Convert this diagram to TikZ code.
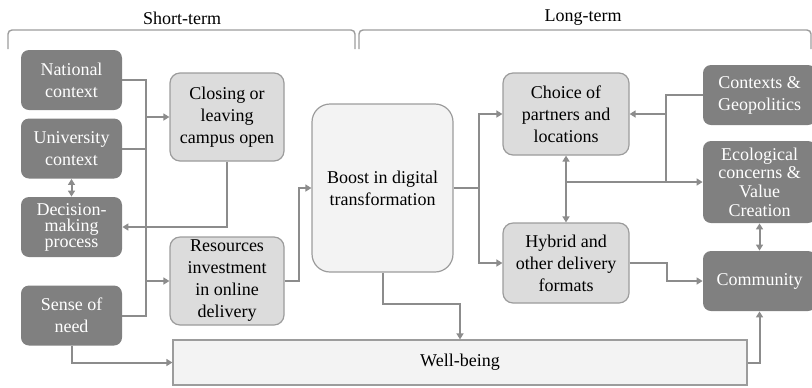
\documentclass[tikz,border=0pt]{standalone}
\usepackage{fontspec}
\setmainfont{Liberation Serif}
\usepackage{tikz}
\usetikzlibrary{arrows.meta,calc}
\definecolor{darkbox}{HTML}{808080}
\definecolor{lightbox}{HTML}{DCDCDC}
\definecolor{paleBox}{HTML}{F3F3F3}
\definecolor{boxline}{HTML}{9C9C9C}
\definecolor{linkgray}{HTML}{8C8C8C}

\begin{document}
\begin{tikzpicture}[x=0.5pt, y=-0.5pt,
	every node/.style={font=\fontsize{9}{11}\selectfont, align=center, inner sep=1pt},
	ctx/.style={fill=darkbox, text=white, rounded corners=4pt, minimum width=50.5pt, minimum height=30pt},
	act/.style={fill=lightbox, draw=boxline, line width=0.6pt, rounded corners=5pt, minimum width=57pt, minimum height=44pt},
	link/.style={draw=linkgray, line width=1pt},
	arr/.style={link, -{Triangle[length=3pt,width=3.5pt]}},
	dbl/.style={link, {Triangle[length=3pt,width=3.5pt]}-{Triangle[length=3pt,width=3.5pt]}},
	brace/.style={draw=boxline, line width=0.7pt, rounded corners=2pt}]

	\useasboundingbox (0,0) rectangle (812,387);

	% term brackets
	\draw[brace] (8,49) -- (8,30) -- (355,30) -- (355,49);
	\draw[brace] (359,49) -- (359,30) -- (811,30) -- (811,49);
	\node (short) at (182,18) {Short-term};
	\node (long) at (583,18) {Long-term};

	% left side: contexts
	\node[ctx] (nat) at (71.5,80) {National\\context};
	\node[ctx] (uni) at (71.5,148.5) {University\\context};
	\node[ctx, font=\fontsize{9}{8}\selectfont] (dec) at (71.5,227) {Decision-\\making\\process};
	\node[ctx] (sense) at (71.5,315.5) {Sense of\\need};

	% short-term actions
	\node[act] (close) at (227,117) {Closing or\\leaving\\campus open};
	\node[act] (res) at (227,281) {Resources\\investment\\in online\\delivery};
	\node[act, fill=paleBox, rounded corners=9pt, minimum width=70.5pt, minimum height=84pt] (boost) at (382.5,188) {Boost in digital\\transformation};
	\node[draw=boxline, fill=paleBox, line width=0.6pt, minimum width=287pt, minimum height=22.5pt] (well) at (460,362.5) {Well-being};

	% long-term
	\node[act, minimum width=63pt, minimum height=41pt] (choice) at (566,114) {Choice of\\partners and\\locations};
	\node[act, minimum width=63pt, minimum height=40pt] (hybrid) at (566,263) {Hybrid and\\other delivery\\formats};
	\node[ctx, minimum width=56.5pt] (geo) at (759.5,95) {Contexts \&\\Geopolitics};
	\node[ctx, font=\fontsize{9}{9.3}\selectfont, minimum width=56.5pt, minimum height=41pt] (eco) at (759.5,182) {Ecological\\concerns \&\\Value\\Creation};
	\node[ctx, minimum width=56.5pt] (comm) at (759.5,281) {Community};

	\coordinate (bus) at (146,0);
	\coordinate (mid) at (566,182);

	% connectors, left
	\draw[link] (nat.east) -- (nat.east -| bus) -- (sense.east -| bus) -- (sense.east);
	\draw[link] (uni.east) -- (uni.east -| bus);
	\draw[arr] (close.west -| bus) -- (close.west);
	\draw[arr] (res.west -| bus) -- (res.west);
	\draw[dbl] (uni.south) -- (dec.north);
	\draw[arr] (close.south) |- (dec.east);
	\draw[arr] (res.east) -- ++(14,0) |- (boost.west);
	\draw[arr] (sense.south) |- (well.west);
	\draw[arr] (boost.south) -- ++(0,31) -| (well.north);

	% connectors, right
	\draw[arr] (boost.east) -- ++(25,0) coordinate (fork) |- (choice.west);
	\draw[arr] (fork) |- (hybrid.west);
	\draw[arr] (mid) -- (choice.south);
	\draw[arr] (mid) -- (hybrid.north);
	\draw[arr] (mid) -- (eco.west);
	\draw[link] (geo.west) -- ++(-37,0) coordinate (rv) -- (rv |- eco.west);
	\draw[arr] (rv |- choice.east) -- (choice.east);
	\draw[arr] (hybrid.east) -- ++(37,0) |- (comm.west);
	\draw[dbl] (eco.south) -- (comm.north);
	\draw[arr] (well.east) -| (comm.south);
\end{tikzpicture}
\end{document}
